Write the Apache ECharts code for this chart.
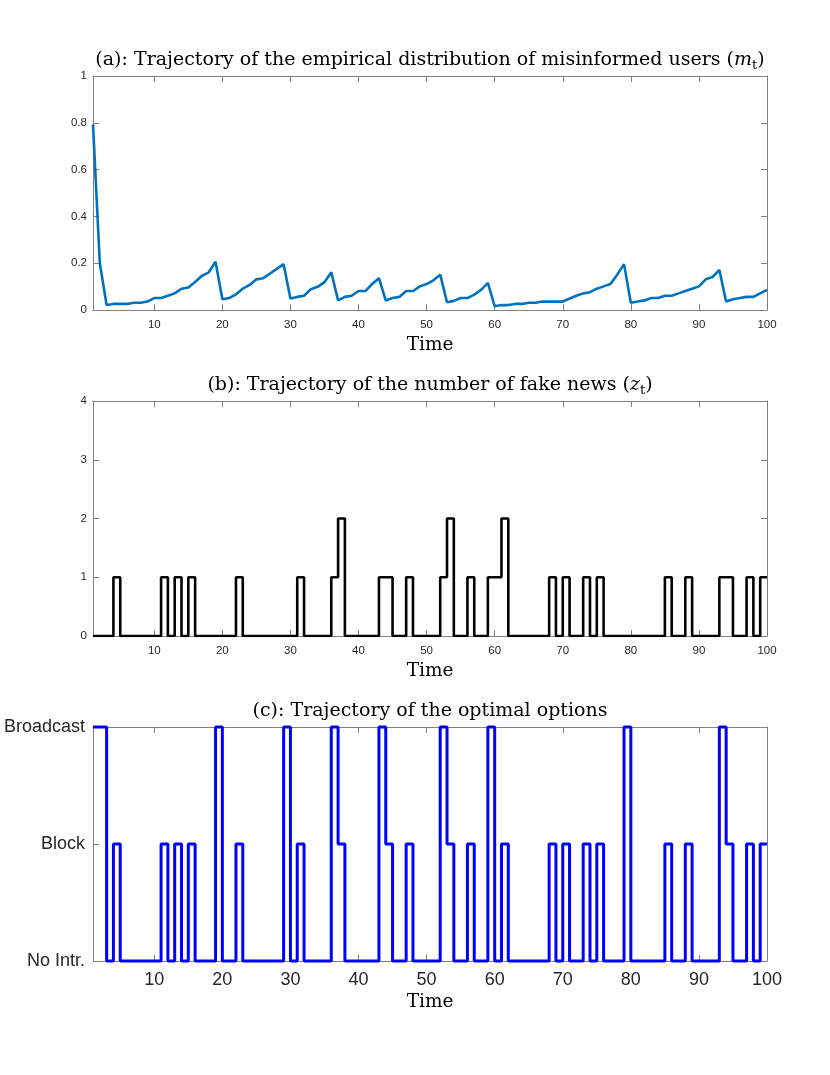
<!DOCTYPE html>
<html>
<head>
<meta charset="utf-8">
<script src="https://cdn.jsdelivr.net/npm/echarts@6/dist/echarts.min.js"></script>
<style>
  html, body { margin: 0; padding: 0; background: #fff; }
  #chart { width: 830px; height: 1075px; }
</style>
</head>
<body>
<div id="chart"></div>
<script>
// time steps 1..100
const TIME = []
for (let i = 1; i <= 100; i++) TIME.push(i)

const X_TICKS = [10, 20, 30, 40, 50, 60, 70, 80, 90, 100]

// (a) empirical distribution of misinformed users m_t
const M_T = [
  0.793, 0.200, 0.021, 0.026, 0.026, 0.026, 0.031, 0.031, 0.036, 0.051,
  0.051, 0.061, 0.071, 0.091, 0.096, 0.120, 0.146, 0.161, 0.206, 0.046,
  0.051, 0.067, 0.091, 0.107, 0.131, 0.136, 0.156, 0.176, 0.196, 0.049,
  0.056, 0.061, 0.089, 0.099, 0.119, 0.161, 0.041, 0.056, 0.061, 0.081,
  0.081, 0.111, 0.136, 0.041, 0.051, 0.056, 0.081, 0.081, 0.101, 0.111,
  0.127, 0.151, 0.033, 0.039, 0.051, 0.051, 0.066, 0.086, 0.116, 0.016,
  0.021, 0.021, 0.026, 0.026, 0.031, 0.031, 0.036, 0.036, 0.036, 0.036,
  0.049, 0.061, 0.071, 0.076, 0.091, 0.101, 0.111, 0.151, 0.196, 0.031,
  0.036, 0.041, 0.051, 0.051, 0.061, 0.061, 0.071, 0.081, 0.091, 0.101,
  0.131, 0.141, 0.171, 0.036, 0.046, 0.051, 0.056, 0.056, 0.071, 0.086
]

// (b) number of fake news z_t
const Z_T = [
  0, 0, 0, 1, 0, 0, 0, 0, 0, 0,
  1, 0, 1, 0, 1, 0, 0, 0, 0, 0,
  0, 1, 0, 0, 0, 0, 0, 0, 0, 0,
  1, 0, 0, 0, 0, 1, 2, 0, 0, 0,
  0, 0, 1, 1, 0, 0, 1, 0, 0, 0,
  0, 1, 2, 0, 0, 1, 0, 0, 1, 1,
  2, 0, 0, 0, 0, 0, 0, 1, 0, 1,
  0, 0, 1, 0, 1, 0, 0, 0, 0, 0,
  0, 0, 0, 0, 1, 0, 0, 1, 0, 0,
  0, 0, 1, 1, 0, 0, 1, 0, 1, 1
]

// (c) optimal option: 0 = No Intr., 1 = Block, 2 = Broadcast
const OPTION_NAMES = ['No Intr.', 'Block', 'Broadcast']
const U_T = [
  2, 2, 0, 1, 0, 0, 0, 0, 0, 0,
  1, 0, 1, 0, 1, 0, 0, 0, 2, 0,
  0, 1, 0, 0, 0, 0, 0, 0, 2, 0,
  1, 0, 0, 0, 0, 2, 1, 0, 0, 0,
  0, 0, 2, 1, 0, 0, 1, 0, 0, 0,
  0, 2, 1, 0, 0, 1, 0, 0, 2, 0,
  1, 0, 0, 0, 0, 0, 0, 1, 0, 1,
  0, 0, 1, 0, 1, 0, 0, 0, 2, 0,
  0, 0, 0, 0, 1, 0, 0, 1, 0, 0,
  0, 0, 2, 1, 0, 0, 1, 0, 1, 1
]

const TITLES = [
  '(a): Trajectory of the empirical distribution of misinformed users ({it|m}{sub|t})',
  '(b): Trajectory of the number of fake news ({it|z}{sub|t})',
  '(c): Trajectory of the optimal options'
]

const SERIF = 'DejaVu Serif'
const SANS = 'Liberation Sans'
const AXIS_GRAY = '#808080'
const TEXT_DARK = '#262626'

const grids = [
  { left: 93, top: 76, width: 674, height: 234 },
  { left: 93, top: 401, width: 674, height: 235 },
  { left: 93, top: 727, width: 674, height: 234 }
]

let pairs = (vals) => TIME.map((t, i) => [t, vals[i]])

let titleRich = {
  it: { fontFamily: SERIF, fontStyle: 'italic', fontSize: 19, color: '#000', lineHeight: 24 },
  sub: { fontFamily: SERIF, fontSize: 13, color: '#000', verticalAlign: 'bottom', lineHeight: 11 }
}

let titles = TITLES.map((txt, i) => ({
  text: txt,
  left: 430,
  textAlign: 'center',
  top: grids[i].top - 28,
  padding: 0,
  textStyle: {
    fontFamily: SERIF, fontWeight: 'normal', fontSize: 19, color: '#000',
    lineHeight: 24, rich: titleRich
  }
}))

let xAxes = []
let yAxes = []
grids.forEach((g, i) => {
  let big = i === 2
  // bottom axis with labels
  xAxes.push({
    type: 'value', gridIndex: i, min: 1, max: 100, position: 'bottom',
    name: 'Time', nameLocation: 'middle', nameGap: big ? 32 : 26,
    nameTextStyle: { fontFamily: SERIF, fontSize: 18.5, color: '#000' },
    axisLine: { show: true, lineStyle: { color: AXIS_GRAY, width: 1 } },
    axisTick: { show: true, inside: true, length: 6, customValues: X_TICKS, lineStyle: { color: AXIS_GRAY } },
    axisLabel: {
      show: true, customValues: X_TICKS, margin: big ? 10 : 9,
      fontFamily: SANS, fontSize: big ? 18 : 11.5, color: TEXT_DARK
    },
    splitLine: { show: false }
  })
  // top axis only for the box and ticks
  xAxes.push({
    type: 'value', gridIndex: i, min: 1, max: 100, position: 'top',
    axisLine: { show: true, onZero: false, lineStyle: { color: AXIS_GRAY, width: 1 } },
    axisTick: { show: true, inside: true, length: 6, customValues: X_TICKS, lineStyle: { color: AXIS_GRAY } },
    axisLabel: { show: false },
    splitLine: { show: false }
  })
})

// y axes
let yDefs = [
  { min: 0, max: 1, interval: 0.2, fmt: (v) => String(+v.toFixed(1)), size: 11.5 },
  { min: 0, max: 4, interval: 1, fmt: (v) => String(v), size: 11.5 },
  { min: 0, max: 2, interval: 1, fmt: (v) => OPTION_NAMES[v], size: 18 }
]
yDefs.forEach((d, i) => {
  yAxes.push({
    type: 'value', gridIndex: i, min: d.min, max: d.max, interval: d.interval, position: 'left',
    axisLine: { show: true, onZero: false, lineStyle: { color: AXIS_GRAY, width: 1 } },
    axisTick: { show: true, inside: true, length: 6, lineStyle: { color: AXIS_GRAY } },
    axisLabel: { show: true, formatter: d.fmt, fontFamily: SANS, fontSize: d.size, color: TEXT_DARK, margin: i === 2 ? 8 : 6 },
    splitLine: { show: false }
  })
  yAxes.push({
    type: 'value', gridIndex: i, min: d.min, max: d.max, interval: d.interval, position: 'right',
    axisLine: { show: true, onZero: false, lineStyle: { color: AXIS_GRAY, width: 1 } },
    axisTick: { show: true, inside: true, length: 6, lineStyle: { color: AXIS_GRAY } },
    axisLabel: { show: false },
    splitLine: { show: false }
  })
})

let option = {
  animation: false,
  backgroundColor: '#fff',
  title: titles,
  grid: grids,
  xAxis: xAxes,
  yAxis: yAxes,
  series: [
    {
      name: 'm_t', type: 'line', xAxisIndex: 0, yAxisIndex: 0,
      data: pairs(M_T), showSymbol: false, symbol: 'none',
      lineStyle: { color: '#0072BD', width: 2.6 }
    },
    {
      name: 'z_t', type: 'line', xAxisIndex: 2, yAxisIndex: 2, step: 'end',
      data: pairs(Z_T), showSymbol: false, symbol: 'none',
      lineStyle: { color: '#000', width: 2.6 }
    },
    {
      name: 'options', type: 'line', xAxisIndex: 4, yAxisIndex: 4, step: 'end',
      data: pairs(U_T), showSymbol: false, symbol: 'none', clip: false,
      lineStyle: { color: '#0000FF', width: 3 }
    }
  ]
}

let chart = echarts.init(document.getElementById('chart'), null, { renderer: 'canvas' })
chart.setOption(option)
</script>
</body>
</html>
